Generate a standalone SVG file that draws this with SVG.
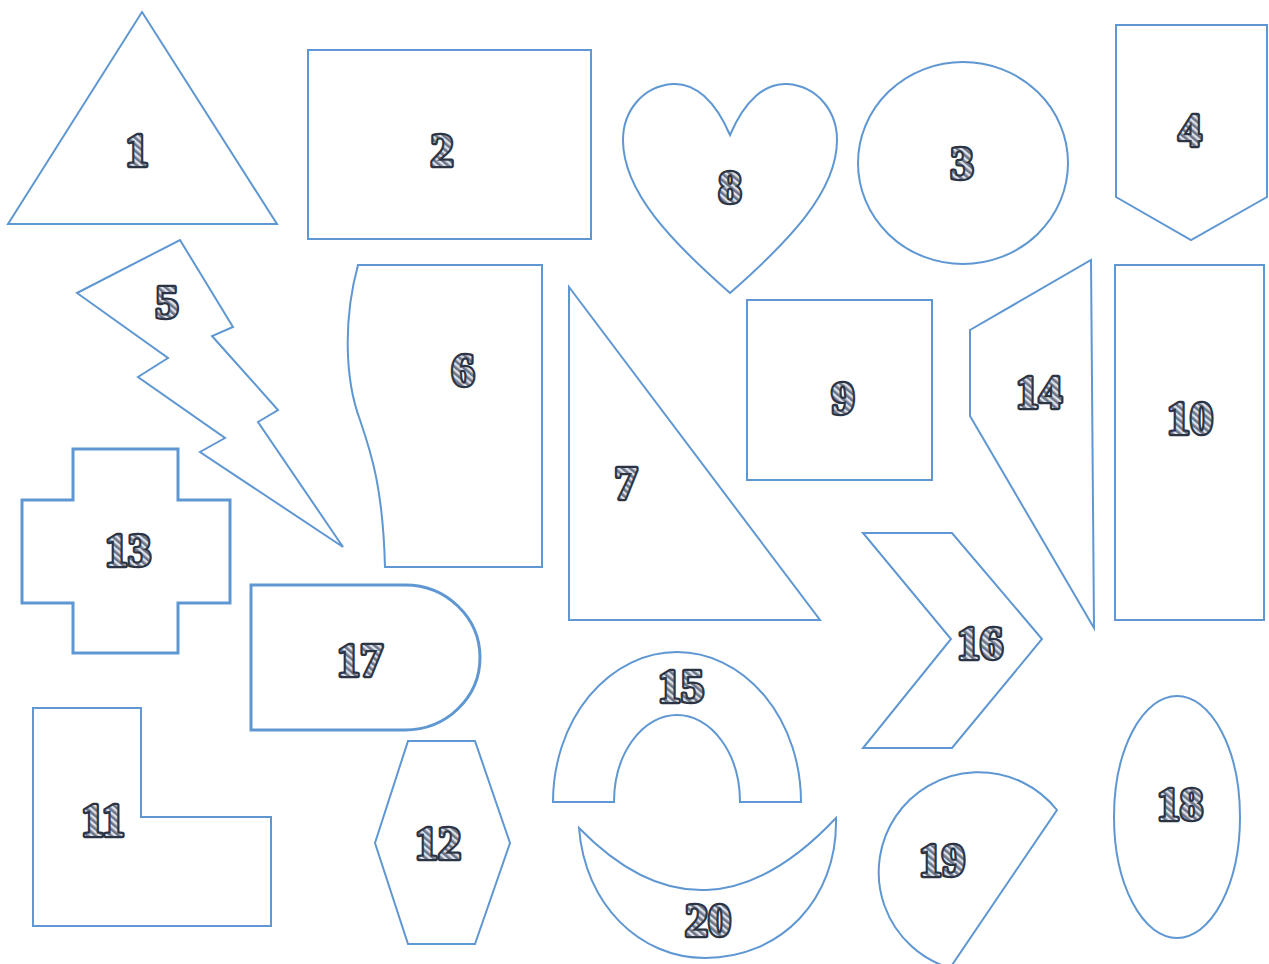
<svg xmlns="http://www.w3.org/2000/svg" width="1269" height="964" viewBox="0 0 1269 964">
<defs>
<pattern id="hatch" width="5" height="5" patternUnits="userSpaceOnUse" patternTransform="rotate(-50)">
<rect width="5" height="5" fill="#dfe2e9"/>
<rect width="2.6" height="5" fill="#6c7487"/>
</pattern>
</defs>
<style>
.s{fill:#ffffff;stroke:#5f97d2;stroke-width:2;stroke-linejoin:miter}
.t{stroke-width:3}
.n{font-family:"Liberation Serif","DejaVu Serif",serif;font-weight:bold;font-size:46px;fill:url(#hatch);stroke:#2c3444;stroke-width:4.5;stroke-linejoin:round;text-anchor:middle;dominant-baseline:central;paint-order:stroke}
</style>
<rect width="1269" height="964" fill="#ffffff"/>
<g id="shape1"><polygon class="s" points="142,12 277,224 8,224"/><text class="n" x="137" y="150">1</text></g>
<g id="shape2"><rect class="s" x="308" y="50" width="283" height="189"/><text class="n" x="442" y="150">2</text></g>
<g id="shape8"><path class="s" d="M730,135 C715,100 695,83 673,84 C642,86 623,112 623,140 C623,192 672,242 730,293 C788,242 837,192 837,140 C837,112 818,86 787,84 C765,83 745,100 730,135 Z"/><text class="n" x="730" y="187">8</text></g>
<g id="shape3"><ellipse class="s" cx="963" cy="163" rx="105" ry="101"/><text class="n" x="962" y="163">3</text></g>
<g id="shape4"><polygon class="s" points="1116,25 1267,25 1267,197 1191,240 1116,197"/><text class="n" x="1190" y="130">4</text></g>
<g id="shape5"><polygon class="s" points="77,293 180,240 233,327 212,336 278,410 258,422 343,547 200,452 225,438 138,377 168,358"/><text class="n" x="167" y="302">5</text></g>
<g id="shape6"><path class="s" d="M358,265 L542,265 L542,567 L385,567 C383,490 372,455 360,420 C345,380 343,320 358,265 Z"/><text class="n" x="463" y="370">6</text></g>
<g id="shape7"><polygon class="s" points="569,287 820,620 569,620"/><text class="n" x="626" y="483">7</text></g>
<g id="shape9"><rect class="s" x="747" y="300" width="185" height="180"/><text class="n" x="843" y="398">9</text></g>
<g id="shape14"><polygon class="s" points="970,330 1091,260 1094,628 970,416"/><text class="n" x="1039" y="392">14</text></g>
<g id="shape10"><rect class="s" x="1115" y="265" width="149" height="355"/><text class="n" x="1190" y="418">10</text></g>
<g id="shape13"><polygon class="s t" points="73,449 178,449 178,500 230,500 230,603 178,603 178,653 73,653 73,603 22,603 22,500 73,500"/><text class="n" x="128" y="550">13</text></g>
<g id="shape17"><path class="s t" d="M251,585 L405,585 A75,72.5 0 0 1 405,730 L251,730 Z"/><text class="n" x="360" y="660">17</text></g>
<g id="shape16"><polygon class="s" points="863,533 952,533 1042,639 952,748 863,748 951,639"/><text class="n" x="980" y="643">16</text></g>
<g id="shape11"><polygon class="s" points="33,708 141,708 141,817 271,817 271,926 33,926"/><text class="n" x="103" y="820">11</text></g>
<g id="shape12"><polygon class="s" points="408,741 475,741 510,843 475,944 408,944 375,843"/><text class="n" x="438" y="843">12</text></g>
<g id="shape15"><path class="s" d="M553,802 A124,150 0 0 1 801,802 L740,802 A63,87 0 0 0 614,802 Z"/><text class="n" x="681" y="686">15</text></g>
<g id="shape20"><path class="s" d="M579,828 Q705,957 836,818 C838,900 780,958 705,958 C640,958 585,905 579,828 Z"/><text class="n" x="708" y="920">20</text></g>
<g id="shape19"><path class="s" d="M1057,810 A100,100 0 1 0 950,968 Z"/><text class="n" x="942" y="860">19</text></g>
<g id="shape18"><ellipse class="s" cx="1177" cy="817" rx="63" ry="121"/><text class="n" x="1180" y="804">18</text></g>
<g id="connectors"/>
</svg>
